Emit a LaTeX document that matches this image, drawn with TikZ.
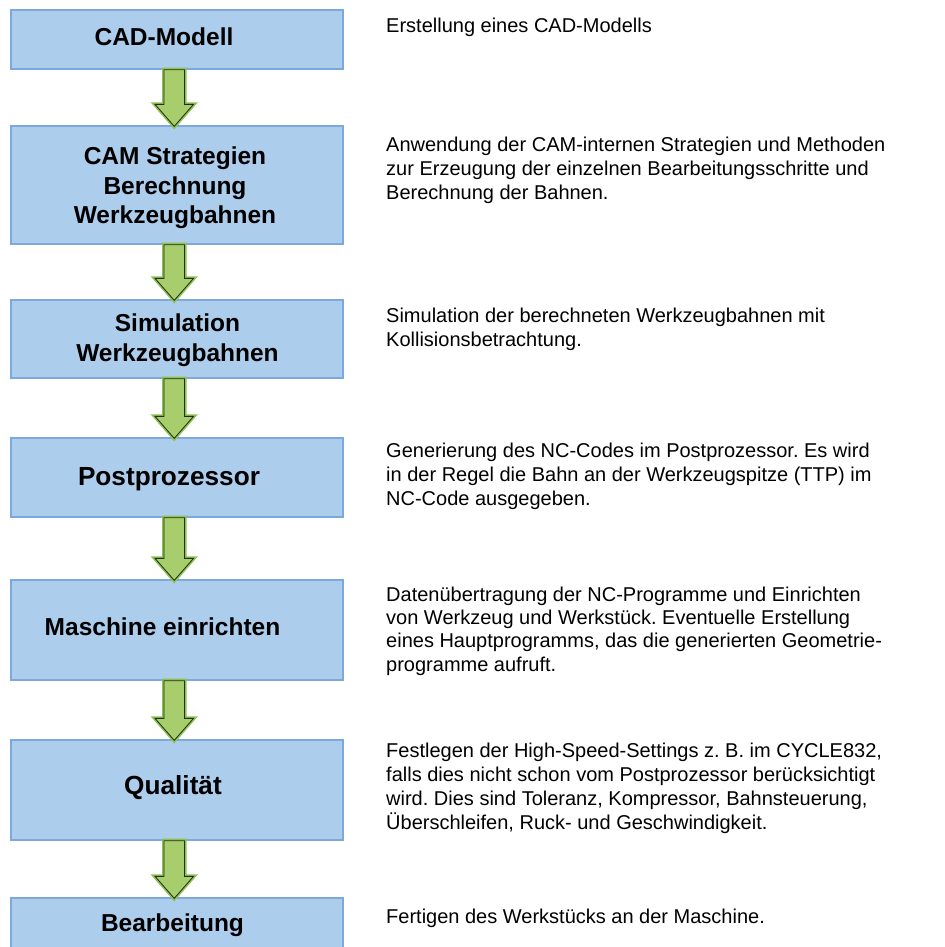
\documentclass[tikz,border=0pt]{standalone}
\usepackage{fontspec}
\setmainfont{Liberation Sans}
\usetikzlibrary{calc}
\definecolor{boxfill}{HTML}{ADCDEC}
\definecolor{boxline}{HTML}{7DA8DB}
\definecolor{arrfill}{HTML}{A8CD6C}
\definecolor{arrglow}{HTML}{8CC152}
\definecolor{arrline}{HTML}{22300F}
\newcommand\flowarr[2]{%
  \draw[flowarrow] let \p1=(#1.south), \p2=(#2.north) in
    (164bp,\y1) -- (184.5bp,\y1) -- (184.5bp,\y2+21bp) -- (193.5bp,\y2+21bp)
    -- (174.25bp,\y2-1bp) -- (155bp,\y2+21bp) -- (164bp,\y2+21bp) -- cycle;}
\begin{document}
\frenchspacing
\begin{tikzpicture}[x=1bp,y=-1bp,
  stepbox/.style={rectangle, draw=boxline, fill=boxfill, line width=1.3bp,
    minimum width=332bp, inner sep=0pt},
  lbl/.style={font=\fontsize{24.5bp}{29.5bp}\selectfont\bfseries, inner sep=0pt, anchor=base},
  lblbig/.style={lbl, font=\fontsize{26.2bp}{30bp}\selectfont\bfseries},
  desc/.style={font=\fontsize{20bp}{24bp}\selectfont\frenchspacing, inner sep=0pt, anchor=base west},
  flowarrow/.style={preaction={draw=arrglow, line width=4bp, line join=miter},
    draw=arrline, line width=0.8bp, fill=arrfill, line join=miter},
]
\useasboundingbox (0,0) rectangle (945,947);
\clip (0,0) rectangle (945,947);

% boxes
\node[stepbox, minimum height=59bp]  (b1) at (177,39.5) {};
\node[stepbox, minimum height=118bp] (b2) at (177,185) {};
\node[stepbox, minimum height=78bp]  (b3) at (177,339) {};
\node[stepbox, minimum height=79bp]  (b4) at (177,477.5) {};
\node[stepbox, minimum height=100bp] (b5) at (177,630) {};
\node[stepbox, minimum height=100bp] (b6) at (177,790) {};
\node[stepbox, minimum height=70bp]  (b7) at (177,933) {};

% box labels
\node[lbl] (l1) at (164,45) {CAD-Modell};
\node[lbl] (l2a) at (175,164.5) {CAM Strategien};
\node[lbl] (l2b) at (175,194) {Berechnung};
\node[lbl] (l2c) at (175,223.5) {Werkzeugbahnen};
\node[lbl] (l3a) at (177.5,331.5) {Simulation};
\node[lbl] (l3b) at (177.5,361) {Werkzeugbahnen};
\node[lblbig] (l4) at (169,485) {Postprozessor};
\node[lbl] (l5) at (162.5,635) {Maschine einrichten};
\node[lblbig] (l6) at (173,794) {Qualität};
\node[lbl] (l7) at (172.5,931) {Bearbeitung};

% arrows
\flowarr{b1}{b2}
\flowarr{b2}{b3}
\flowarr{b3}{b4}
\flowarr{b4}{b5}
\flowarr{b5}{b6}
\flowarr{b6}{b7}

% descriptions
\node[desc] (p1) at (386,32) {Erstellung eines CAD-Modells};

\node[desc] (p2a) at (386,151) {Anwendung der CAM-internen Strategien und Methoden};
\node[desc] (p2b) at (386,175.3) {zur Erzeugung der einzelnen Bearbeitungsschritte und};
\node[desc] (p2c) at (386,199.6) {Berechnung der Bahnen.};

\node[desc] (p3a) at (386,322) {Simulation der berechneten Werkzeugbahnen mit};
\node[desc] (p3b) at (386,346) {Kollisionsbetrachtung.};

\node[desc] (p4a) at (386,457) {Generierung des NC-Codes im Postprozessor. Es wird};
\node[desc] (p4b) at (386,481) {in der Regel die Bahn an der Werkzeugspitze (TTP) im};
\node[desc] (p4c) at (386,505) {NC-Code ausgegeben.};

\node[desc] (p5a) at (386,601) {Datenübertragung der NC-Programme und Einrichten};
\node[desc] (p5b) at (386,624.5) {von Werkzeug und Werkstück. Eventuelle Erstellung};
\node[desc] (p5c) at (386,647.5) {eines Hauptprogramms, das die generierten Geometrie-};
\node[desc] (p5d) at (386,671) {programme aufruft.};

\node[desc] (p6a) at (386,757.5) {Festlegen der High-Speed-Settings z.~B. im CYCLE832,};
\node[desc] (p6b) at (386,781.5) {falls dies nicht schon vom Postprozessor berücksichtigt};
\node[desc] (p6c) at (386,805.5) {wird. Dies sind Toleranz, Kompressor, Bahnsteuerung,};
\node[desc] (p6d) at (386,829.5) {Überschleifen, Ruck- und Geschwindigkeit.};

\node[desc] (p7) at (386,923) {Fertigen des Werkstücks an der Maschine.};
\end{tikzpicture}
\end{document}
